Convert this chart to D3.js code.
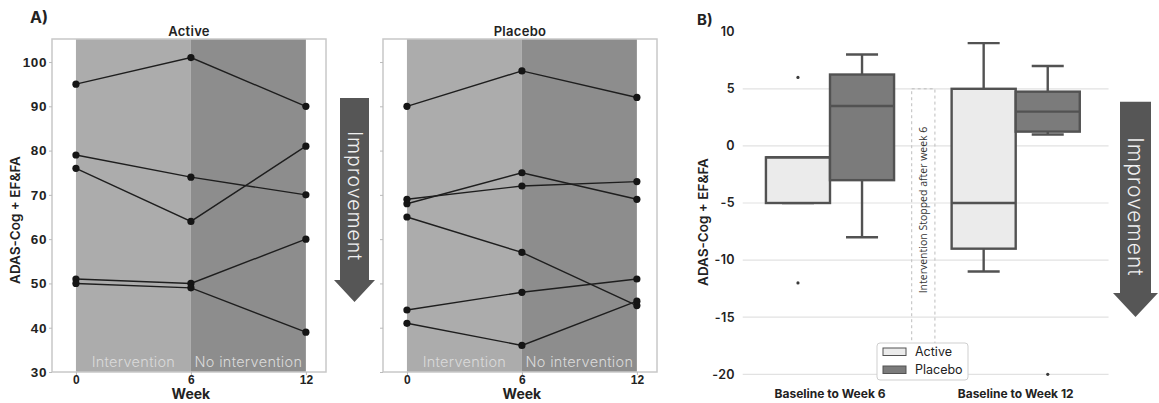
<!DOCTYPE html>
<html>
<head>
<meta charset="utf-8">
<script src="https://cdn.jsdelivr.net/npm/d3@7"></script>
<style>
  body { margin: 0; background: #fff; }
  svg { display: block; font-family: Inter, "DejaVu Sans", sans-serif; }
</style>
</head>
<body>
<svg id="chart" width="1159" height="403"></svg>
<script>
// ---- data ----
const weeks = [0, 6, 12];
const activeWeek0  = [95, 79, 76, 51, 50];
const activeWeek6  = [101, 74, 64, 50, 49];
const activeWeek12 = [90, 70, 81, 60, 39];
const placeboWeek0  = [90, 68, 69, 65, 44, 41];
const placeboWeek6  = [98, 75, 72, 57, 48, 36];
const placeboWeek12 = [92, 69, 73, 45, 51, 46];
const yTicksA = [30, 40, 50, 60, 70, 80, 90, 100];
const yTicksB = [10, 5, 0, -5, -10, -15, -20];
const periods = ["Baseline to Week 6", "Baseline to Week 12"];
const groups = ["Active", "Placebo"];
const phases = ["Intervention", "No intervention"];

const svg = d3.select("#chart");
const ink = "#222";

// ---------- panel A : trajectories ----------
const plotTop = 39, plotBottom = 372;
const yA = d3.scaleLinear().domain([30, 105.2]).range([plotBottom, plotTop]);

function drawTrajectories(left, title, w0, w6, w12, showLabels) {
	const x = d3.scaleLinear().domain([-1.25, 13.05]).range([left, left + 274]);
	const g = svg.append("g");

	// shaded periods
	g.append("rect").attr("x", x(0)).attr("y", plotTop)
		.attr("width", x(6) - x(0)).attr("height", plotBottom - plotTop).attr("fill", "#acacac");
	g.append("rect").attr("x", x(6)).attr("y", plotTop)
		.attr("width", x(12) - x(6)).attr("height", plotBottom - plotTop).attr("fill", "#8d8d8d");

	g.selectAll(".phase").data(phases).enter().append("text")
		.attr("x", (d, i) => (x(weeks[i]) + x(weeks[i + 1])) / 2)
		.attr("y", 367)
		.attr("text-anchor", "middle")
		.attr("font-size", 14.5).attr("font-weight", 300)
		.attr("letter-spacing", 0.3)
		.attr("fill", "#dadada")
		.text(d => d);

	// frame
	g.append("rect").attr("x", x.range()[0]).attr("y", plotTop)
		.attr("width", x.range()[1] - x.range()[0]).attr("height", plotBottom - plotTop)
		.attr("fill", "none").attr("stroke", "#c8c8c8").attr("stroke-width", 1.5);

	// axes
	const yAxis = g.append("g").attr("transform", "translate(" + x.range()[0] + ",0)")
		.call(d3.axisLeft(yA).tickValues(yTicksA).tickSize(3).tickPadding(2)
			.tickFormat(showLabels ? d3.format("d") : ""));
	yAxis.select(".domain").remove();
	yAxis.selectAll("line").attr("stroke", "#bbb");
	yAxis.selectAll("text").attr("font-size", 13.5).attr("font-weight", 600)
		.attr("letter-spacing", 0.6).attr("fill", ink).attr("font-family", null);

	const xAxis = g.append("g").attr("transform", "translate(0," + plotBottom + ")")
		.call(d3.axisBottom(x).tickValues(weeks).tickSize(3).tickPadding(0));
	xAxis.select(".domain").remove();
	xAxis.selectAll("line").attr("stroke", "#bbb");
	xAxis.selectAll("text").attr("font-size", 12).attr("font-weight", 600)
		.attr("fill", ink).attr("font-family", null);

	g.append("text").attr("x", x(6)).attr("y", 399)
		.attr("text-anchor", "middle").attr("font-size", 14).attr("font-weight", 700)
		.attr("fill", ink).text("Week");

	g.append("text").attr("x", (x.range()[0] + x.range()[1]) / 2).attr("y", 36)
		.attr("text-anchor", "middle").attr("font-size", 13).attr("font-weight", 600)
		.attr("letter-spacing", 0.3).attr("fill", ink).text(title);

	// subject lines
	const subjects = w0.map((v, i) => [w0[i], w6[i], w12[i]]);
	const line = d3.line().x((d, i) => x(weeks[i])).y(d => yA(d));
	g.selectAll(".subject").data(subjects).enter().append("path")
		.attr("d", line).attr("fill", "none")
		.attr("stroke", "#1e1e1e").attr("stroke-width", 1.4);
	subjects.forEach(s => {
		g.selectAll(null).data(s).enter().append("circle")
			.attr("cx", (d, i) => x(weeks[i])).attr("cy", d => yA(d))
			.attr("r", 3.6).attr("fill", "#151515");
	});
}

drawTrajectories(52, groups[0], activeWeek0, activeWeek6, activeWeek12, true);
drawTrajectories(383, groups[1], placeboWeek0, placeboWeek6, placeboWeek12, false);

svg.append("text").attr("transform", "translate(20,220) rotate(-90)")
	.attr("text-anchor", "middle").attr("font-size", 13.5).attr("font-weight", 600)
	.attr("fill", ink).text("ADAS-Cog + EF&FA");
svg.append("text").attr("x", 30).attr("y", 23).attr("font-size", 16)
	.attr("font-weight", 700).attr("fill", ink).text("A)");

// improvement arrows
function arrow(cx, y0, y1, tip, shaftW, headW, fontSize, textY) {
	const p = d3.path();
	p.moveTo(cx - shaftW / 2, y0);
	p.lineTo(cx + shaftW / 2, y0);
	p.lineTo(cx + shaftW / 2, y1);
	p.lineTo(cx + headW / 2, y1);
	p.lineTo(cx, tip);
	p.lineTo(cx - headW / 2, y1);
	p.lineTo(cx - shaftW / 2, y1);
	p.closePath();
	svg.append("path").attr("d", p.toString()).attr("fill", "#565656");
	svg.append("text").attr("transform", "translate(" + cx + "," + textY + ") rotate(90)")
		.attr("text-anchor", "middle").attr("dy", "0.35em")
		.attr("font-size", fontSize).attr("font-weight", 300)
		.attr("letter-spacing", 1).attr("fill", "#f0f0f0").text("Improvement");
}
arrow(354.5, 98, 280, 302, 29, 41, 19.5, 196);
arrow(1135.5, 101.7, 293, 317, 31, 45, 21, 207);

// ---------- panel B : change box plots ----------
const yB = d3.scaleLinear().domain([-20, 10]).range([374.3, 31.7]);
const xB = d3.scaleLinear().domain([0, 1]).range([830, 1015.7]);
const boxW = 0.345;

const gB = svg.append("g");
gB.selectAll(".grid").data(yTicksB.filter(v => v < d3.max(yTicksB))).enter().append("line")
	.attr("x1", xB(-0.47)).attr("x2", xB(1.5))
	.attr("y1", d => yB(d)).attr("y2", d => yB(d))
	.attr("stroke", "#e2e2e2").attr("stroke-width", 1.2);

gB.selectAll(".ytick").data(yTicksB).enter().append("text")
	.attr("x", 735).attr("y", d => yB(d)).attr("dy", "0.35em")
	.attr("text-anchor", "end").attr("font-size", 12.5).attr("font-weight", 600)
	.attr("letter-spacing", 0.4).attr("fill", ink).text(d => d);

gB.selectAll(".xlab").data(periods).enter().append("text")
	.attr("x", (d, i) => xB(i)).attr("y", 398)
	.attr("text-anchor", "middle").attr("font-size", 12).attr("font-weight", 700)
	.attr("fill", ink).text(d => d);

svg.append("text").attr("transform", "translate(708,222) rotate(-90)")
	.attr("text-anchor", "middle").attr("font-size", 13.5).attr("font-weight", 600)
	.attr("fill", ink).text("ADAS-Cog + EF&FA");
svg.append("text").attr("x", 697).attr("y", 25).attr("font-size", 15)
	.attr("font-weight", 700).attr("fill", ink).text("B)");

// intervention stopped marker
gB.append("rect").attr("x", xB(0.44)).attr("y", yB(5))
	.attr("width", xB(0.565) - xB(0.44)).attr("height", yB(-20) - yB(5))
	.attr("fill", "none").attr("stroke", "#bdbdbd").attr("stroke-dasharray", "3,3");
gB.append("text").attr("transform", "translate(" + ((xB(0.44) + xB(0.565)) / 2) + ",210) rotate(-90)")
	.attr("text-anchor", "middle").attr("dy", "0.35em")
	.attr("font-size", 10.5).attr("fill", "#333")
	.attr("font-family", "'Open Sans', sans-serif").text("Intervention Stopped after week 6");

// box statistics from the subject data
function boxStats(vals) {
	const s = vals.slice().sort(d3.ascending);
	const q1 = d3.quantile(s, 0.25), med = d3.quantile(s, 0.5), q3 = d3.quantile(s, 0.75);
	const iqr = q3 - q1;
	const inside = s.filter(v => v >= q1 - 1.5 * iqr && v <= q3 + 1.5 * iqr);
	return { q1, med, q3, lo: d3.min(inside), hi: d3.max(inside),
		out: s.filter(v => v < q1 - 1.5 * iqr || v > q3 + 1.5 * iqr) };
}
const diff = (a, b) => a.map((v, i) => b[i] - v);
const boxes = [
	{ period: 0, group: 0, stats: boxStats(diff(activeWeek0, activeWeek6)) },
	{ period: 0, group: 1, stats: boxStats(diff(placeboWeek0, placeboWeek6)) },
	{ period: 1, group: 0, stats: boxStats(diff(activeWeek0, activeWeek12)) },
	{ period: 1, group: 1, stats: boxStats(diff(placeboWeek0, placeboWeek12)) }
];
const fills = ["#ebebeb", "#7b7b7b"];
const edge = "#525252";

boxes.forEach(b => {
	const c = b.period + (b.group === 0 ? -boxW / 2 : boxW / 2);
	const st = b.stats;
	const g = gB.append("g");
	const cx = xB(c), half = (xB(boxW) - xB(0)) / 2;
	// whiskers
	g.append("line").attr("x1", cx).attr("x2", cx).attr("y1", yB(st.q3)).attr("y2", yB(st.hi))
		.attr("stroke", edge).attr("stroke-width", 2.4);
	g.append("line").attr("x1", cx).attr("x2", cx).attr("y1", yB(st.q1)).attr("y2", yB(st.lo))
		.attr("stroke", edge).attr("stroke-width", 2.4);
	[st.hi, st.lo].forEach(v => {
		g.append("line").attr("x1", cx - half / 2).attr("x2", cx + half / 2)
			.attr("y1", yB(v)).attr("y2", yB(v))
			.attr("stroke", edge).attr("stroke-width", 2.4);
	});
	g.append("rect").attr("x", cx - half).attr("y", yB(st.q3))
		.attr("width", half * 2).attr("height", yB(st.q1) - yB(st.q3))
		.attr("fill", fills[b.group]).attr("stroke", edge).attr("stroke-width", 2.4);
	g.append("line").attr("x1", cx - half).attr("x2", cx + half)
		.attr("y1", yB(st.med)).attr("y2", yB(st.med))
		.attr("stroke", edge).attr("stroke-width", 2.4);
	g.selectAll(".out").data(st.out).enter().append("circle")
		.attr("cx", cx).attr("cy", d => yB(d)).attr("r", 1.6).attr("fill", "#3a3a3a");
});

// legend
const lg = svg.append("g").attr("transform", "translate(877,343)");
lg.append("rect").attr("width", 91).attr("height", 37).attr("rx", 3)
	.attr("fill", "#fff").attr("stroke", "#cfcfcf");
groups.forEach((name, i) => {
	lg.append("rect").attr("x", 6).attr("y", 5 + i * 18).attr("width", 23).attr("height", 7.5)
		.attr("fill", fills[i]).attr("stroke", edge).attr("stroke-width", 1);
	lg.append("text").attr("x", 38).attr("y", 9 + i * 18).attr("dy", "0.35em")
		.attr("font-size", 12.5).attr("fill", ink).text(name);
});
</script>
</body>
</html>
